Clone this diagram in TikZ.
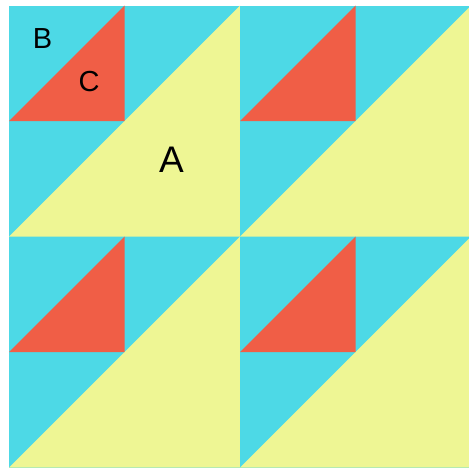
\documentclass[tikz,border=0pt]{standalone}
\usepackage{fontspec}
\setmainfont{Liberation Sans}
\definecolor{qcyan}{RGB}{77,217,230}
\definecolor{qred}{RGB}{240,94,70}
\definecolor{qyellow}{RGB}{238,246,148}
\tikzset{
  lbl/.style={inner sep=0pt, text=black, font=\fontsize{29}{29}\selectfont},
  biglbl/.style={inner sep=0pt, text=black, font=\fontsize{37}{37}\selectfont}
}
\begin{document}
\begin{tikzpicture}[x=1pt,y=-1pt]
\useasboundingbox (0,0) rectangle (469,472);
\fill[white] (0,0) rectangle (469,472);
\begin{scope}
\clip (0,0) rectangle (469,472);
\foreach \ox/\oy in {9/5.5, 240/5.5, 9/236.5, 240/236.5} {
  \begin{scope}[shift={(\ox,\oy)}]
    \fill[qcyan] (0,0) rectangle (231,231);
    \fill[qyellow] (0,231) -- (231,0) -- (231,231) -- cycle;
    \fill[qred] (0,115.5) -- (115.5,0) -- (115.5,115.5) -- cycle;
  \end{scope}
}
\end{scope}
\node[lbl] (B) at (42.5,38.5) {B};
\node[lbl] (C) at (89,82) {C};
\node[biglbl] (A) at (171.5,159.5) {A};
\end{tikzpicture}
\end{document}
